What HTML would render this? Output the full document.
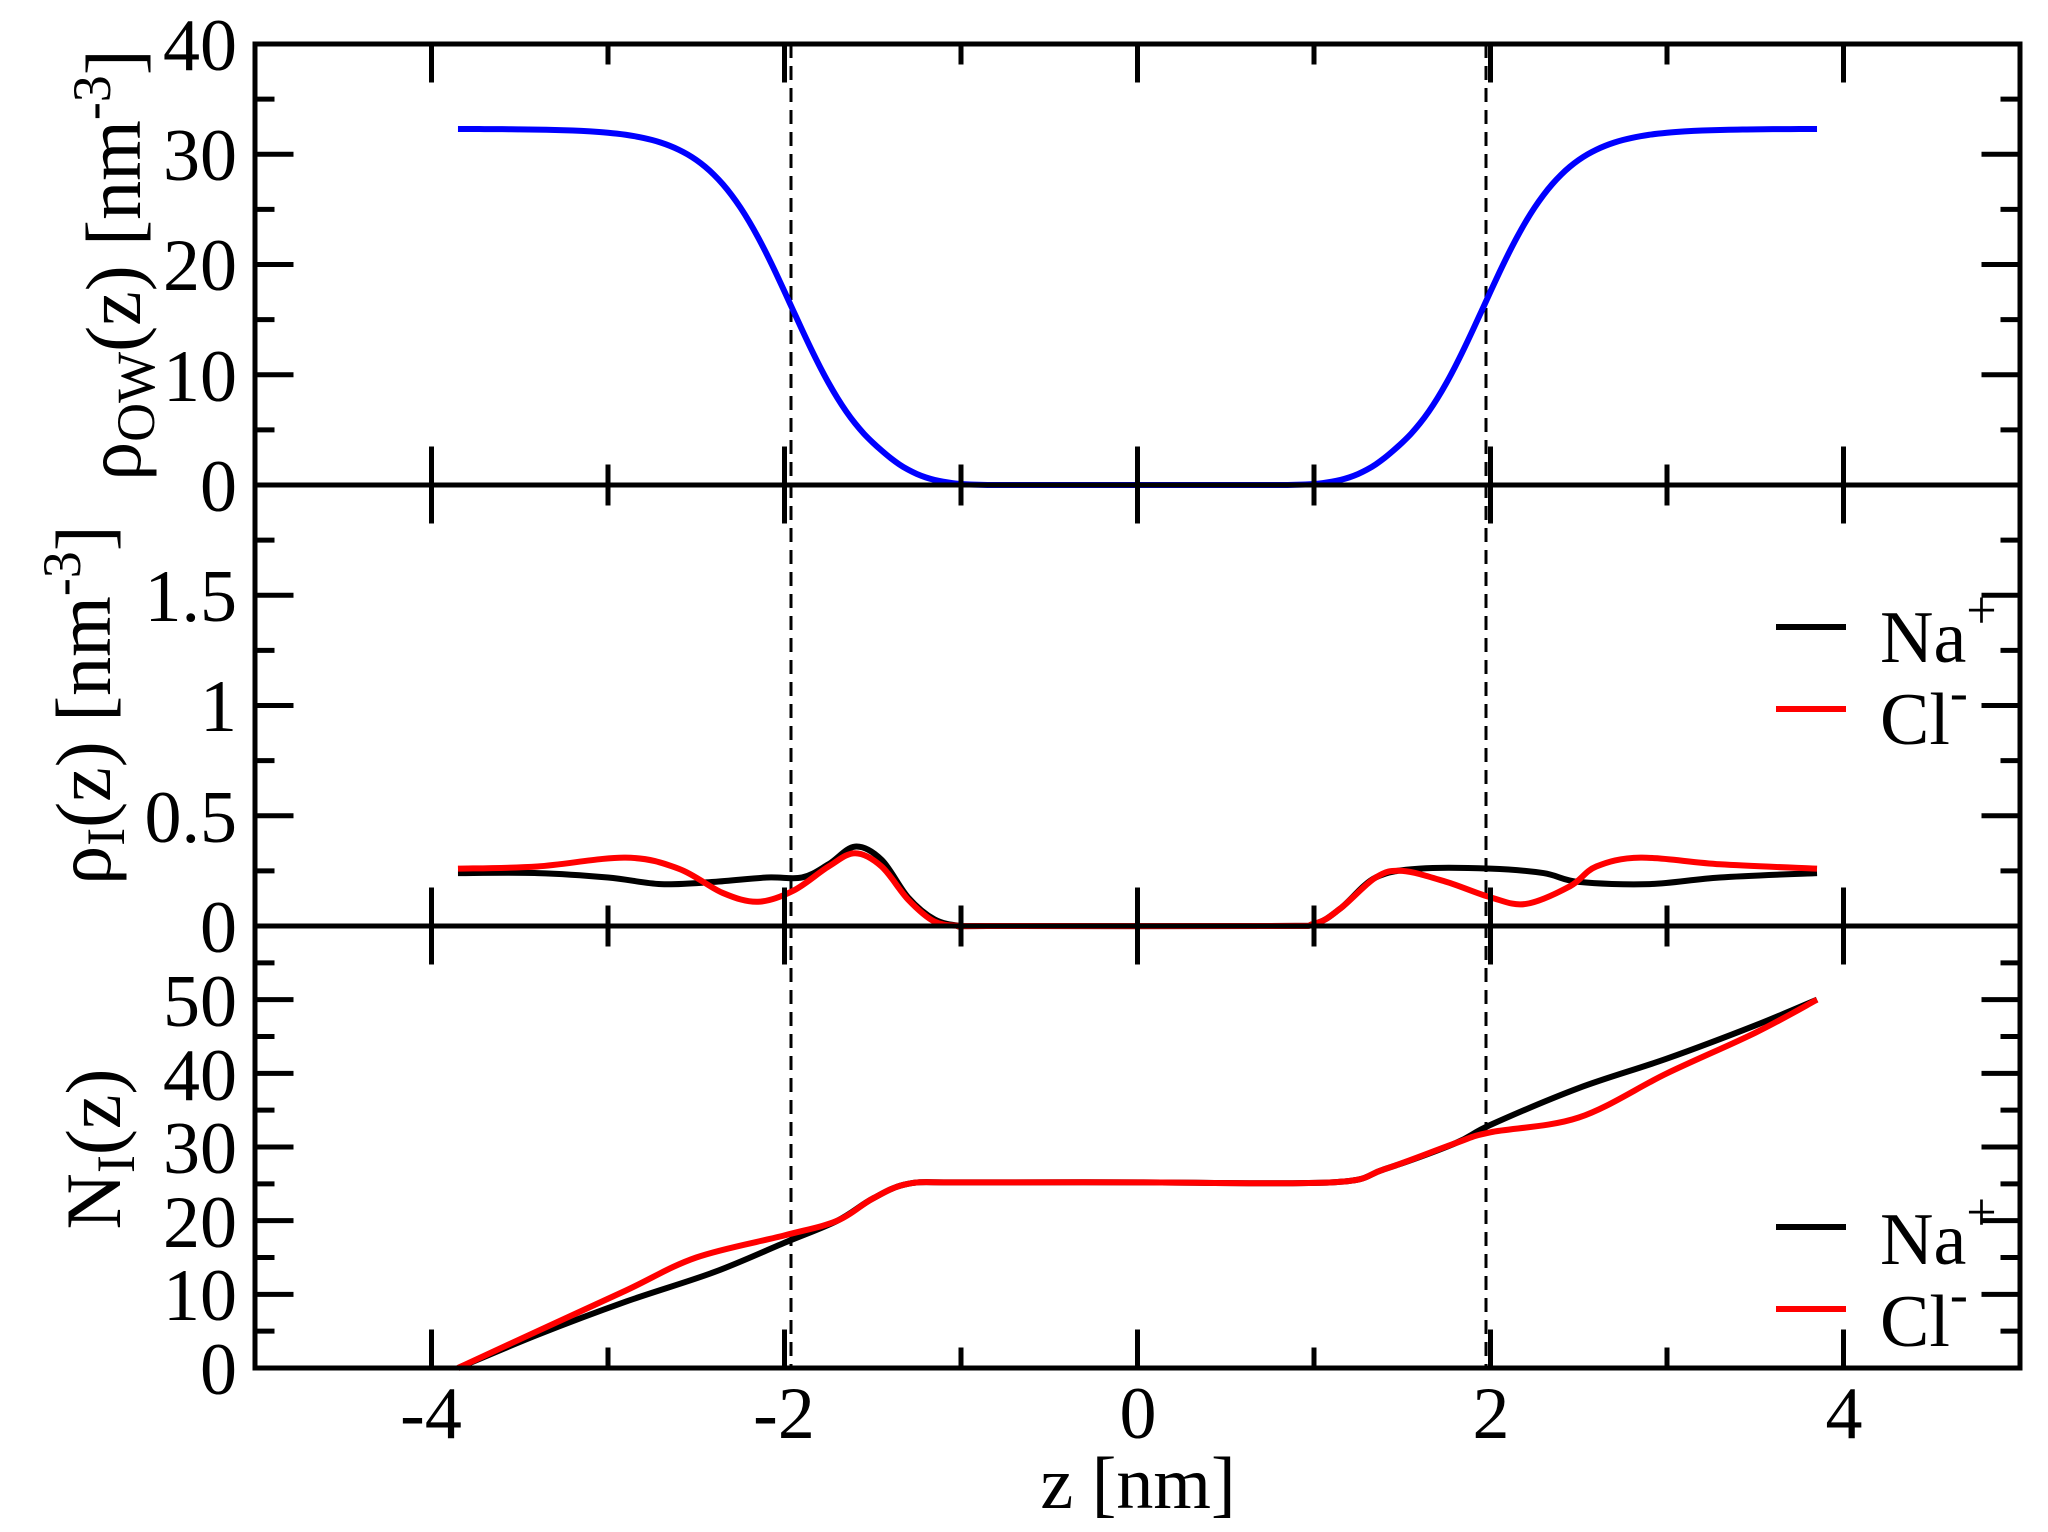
<!DOCTYPE html>
<html><head><meta charset="utf-8"><style>
html,body{margin:0;padding:0;background:#fff}
svg{display:block}
text{font-family:"Liberation Serif","DejaVu Serif",serif;fill:#000}
</style></head><body>
<svg id="s" width="2048" height="1532" viewBox="0 0 2048 1532" xmlns="http://www.w3.org/2000/svg">
<g id="data"></g>
<g id="axes" stroke="#000" stroke-width="5" fill="none"></g>
<g font-size="74" text-anchor="end">
<text x="237" y="70">40</text><text x="237" y="180">30</text><text x="237" y="290">20</text><text x="237" y="401">10</text><text x="237" y="511">0</text>
<text x="237" y="621">1.5</text><text x="237" y="731">1</text><text x="237" y="842">0.5</text><text x="237" y="952">0</text>
<text x="237" y="1026">50</text><text x="237" y="1100">40</text><text x="237" y="1173">30</text><text x="237" y="1247">20</text><text x="237" y="1320">10</text><text x="237" y="1394">0</text>
</g>
<g font-size="74" text-anchor="middle">
<text x="431" y="1438">-4</text><text x="784" y="1438">-2</text><text x="1138" y="1438">0</text><text x="1491" y="1438">2</text><text x="1844" y="1438">4</text>
<text x="1138" y="1508">z [nm]</text>
</g>
<g font-size="78" text-anchor="middle">
<text transform="translate(140,265) rotate(-90)">ρ<tspan font-size="54" dy="14">OW</tspan><tspan dy="-14">(z) [nm</tspan><tspan font-size="54" dy="-30">-3</tspan><tspan dy="30">]</tspan></text>
<text transform="translate(110,705) rotate(-90)">ρ<tspan font-size="54" dy="14">I</tspan><tspan dy="-14">(z) [nm</tspan><tspan font-size="54" dy="-30">-3</tspan><tspan dy="30">]</tspan></text>
<text transform="translate(120,1149) rotate(-90)">N<tspan font-size="54" dy="14">I</tspan><tspan dy="-14">(z)</tspan></text>
</g>
<g stroke-width="6">
<line x1="1776" y1="627" x2="1846" y2="627" stroke="#000"/><line x1="1776" y1="709" x2="1846" y2="709" stroke="#f00"/>
<line x1="1776" y1="1227" x2="1846" y2="1227" stroke="#000"/><line x1="1776" y1="1309" x2="1846" y2="1309" stroke="#f00"/>
</g>
<g font-size="74">
<text x="1880" y="662">Na<tspan font-size="54" dy="-34">+</tspan></text>
<text x="1880" y="744">Cl<tspan font-size="54" dy="-34">-</tspan></text>
<text x="1880" y="1264">Na<tspan font-size="54" dy="-34">+</tspan></text>
<text x="1880" y="1346">Cl<tspan font-size="54" dy="-34">-</tspan></text>
</g>
</svg>
<script>
var NS="http://www.w3.org/2000/svg";
function X(z){return 1137.5+176.5*z;}
var P=[{t:44,b:485,max:40,maj:10,min:5},{t:485,b:926,max:2,maj:0.5,min:0.25},{t:926,b:1368,max:60,maj:10,min:5}];
var ax=document.getElementById('axes'),dg=document.getElementById('data');
function el(p,tag,a){var e=document.createElementNS(NS,tag);for(var k in a)e.setAttribute(k,a[k]);p.appendChild(e);return e;}
var d="M255,44H2020V1368H255Z M255,485H2020 M255,926H2020";
P.forEach(function(p){
 var s=(p.b-p.t)/p.max;
 for(var v=0;v<=p.max+1e-9;v+=p.min){var y=p.b-v*s;var maj=Math.abs(v/p.maj-Math.round(v/p.maj))<1e-6;var L=maj?36:17;
  if(v>0&&v<p.max){d+=" M255,"+y+"h"+L+" M2020,"+y+"h-"+L;}}
 for(var z=-4;z<=4;z++){var x=X(z);var L=(z%2==0)?36:18;d+=" M"+x+","+p.b+"v-"+L+" M"+x+","+p.t+"v"+L;}
});
el(ax,'path',{d:d,'stroke-linecap':'square'});
el(dg,'line',{x1:791,y1:44,x2:791,y2:1368,stroke:'#000','stroke-width':3,'stroke-dasharray':'14,8'});
el(dg,'line',{x1:1486,y1:44,x2:1486,y2:1368,stroke:'#000','stroke-width':3,'stroke-dasharray':'14,8'});
function cr(pts,Y){var s="M"+X(pts[0][0])+","+Y(pts[0][1]);
 for(var i=0;i<pts.length-1;i++){var p0=pts[i>0?i-1:0],p1=pts[i],p2=pts[i+1],p3=pts[i+2<pts.length?i+2:i+1];
  var x1=X(p1[0])+(X(p2[0])-X(p0[0]))/6,y1=Y(p1[1])+(Y(p2[1])-Y(p0[1]))/6,x2=X(p2[0])-(X(p3[0])-X(p1[0]))/6,y2=Y(p2[1])-(Y(p3[1])-Y(p1[1]))/6;
  s+=" C"+x1+","+y1+" "+x2+","+y2+" "+X(p2[0])+","+Y(p2[1]);}
 return s;}
function line(pts,Y,c){el(dg,'path',{d:cr(pts,Y),stroke:c,'stroke-width':6,fill:'none','stroke-linejoin':'round'});}
function ss(t){t=Math.max(0,Math.min(1,t));return t*t*(3-2*t);}
var w=[];for(var z=-3.85;z<=3.851;z+=0.05){var a=Math.abs(z);var v=32.3/2*(1+Math.tanh((a-1.96)/0.46));v*=ss((a-0.8)/0.7);w.push([z,v]);}
line(w,function(v){return 485-v*441/40;},'#00f');
var Y2=function(v){return 926-v*220.5;};
line([[-3.85,0.24],[-3.4,0.24],[-3.0,0.22],[-2.7,0.19],[-2.4,0.2],[-2.1,0.22],[-1.9,0.22],[-1.75,0.28],[-1.6,0.36],[-1.45,0.3],[-1.3,0.13],[-1.15,0.03],[-1.0,0.0],[-0.85,0],
 [0.75,0],[1.0,0.01],[1.15,0.08],[1.35,0.22],[1.6,0.26],[2.0,0.26],[2.3,0.24],[2.5,0.2],[2.9,0.19],[3.3,0.22],[3.85,0.24]],Y2,'#000');
line([[-3.85,0.26],[-3.4,0.27],[-2.9,0.31],[-2.6,0.26],[-2.35,0.15],[-2.15,0.11],[-1.95,0.16],[-1.75,0.27],[-1.6,0.33],[-1.45,0.27],[-1.3,0.12],[-1.15,0.02],[-1.0,0.0],[-0.85,0],
 [0.75,0],[1.0,0.01],[1.15,0.08],[1.35,0.22],[1.5,0.25],[1.75,0.2],[2.0,0.13],[2.2,0.1],[2.45,0.18],[2.6,0.27],[2.85,0.31],[3.3,0.28],[3.85,0.26]],Y2,'#f00');
var Y3=function(v){return 1368-v*7.367;};
line([[-3.85,0],[-3.4,4.5],[-2.9,9],[-2.4,13],[-2.0,17],[-1.7,20],[-1.5,23],[-1.3,25],[-1.0,25.2],[0,25.2],[1.1,25.2],[1.4,27],[1.8,30.5],[2.0,33],[2.5,38],[3.0,42],[3.5,46.5],[3.85,50]],Y3,'#000');
line([[-3.85,0],[-3.4,5],[-2.9,10.5],[-2.5,15],[-2.0,18],[-1.7,20],[-1.5,23],[-1.3,25],[-1.0,25.2],[0,25.2],[1.1,25.2],[1.4,27],[1.8,30.5],[2.0,32],[2.5,34],[3.0,40],[3.5,45.5],[3.85,50]],Y3,'#f00');
</script>
</body></html>
